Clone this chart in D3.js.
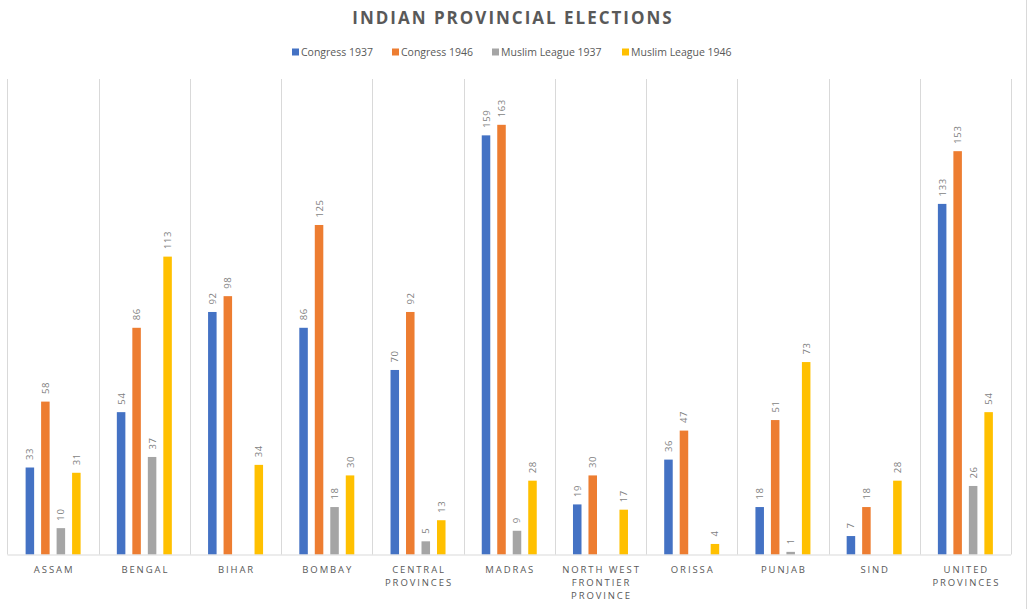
<!DOCTYPE html>
<html><head><meta charset="utf-8">
<script src="https://cdn.jsdelivr.net/npm/d3@7/dist/d3.min.js"></script>
<style>body{margin:0;background:#fff;} svg{display:block;}</style>
</head><body>
<svg id="c" width="1027" height="609"></svg>
<script>
const categories = ["ASSAM","BENGAL","BIHAR","BOMBAY","CENTRAL PROVINCES","MADRAS","NORTH WEST FRONTIER PROVINCE","ORISSA","PUNJAB","SIND","UNITED PROVINCES"];
const categoryLines = [["ASSAM"],["BENGAL"],["BIHAR"],["BOMBAY"],["CENTRAL","PROVINCES"],["MADRAS"],["NORTH WEST","FRONTIER","PROVINCE"],["ORISSA"],["PUNJAB"],["SIND"],["UNITED","PROVINCES"]];
const seriesNames = ["Congress 1937","Congress 1946","Muslim League 1937","Muslim League 1946"];
const seriesColors = ["#4472C4","#ED7D31","#A5A5A5","#FFC000"];
const congress1937 = [33,54,92,86,70,159,19,36,18,7,133];
const congress1946 = [58,86,98,125,92,163,30,47,51,18,153];
const league1937 = [10,37,null,18,5,9,null,null,1,null,26];
const league1946 = [31,113,34,30,13,28,17,4,73,28,54];
const seriesValues = [congress1937, congress1946, league1937, league1946];

(function(){
const svg = d3.select("#c");
const pLeft = 7.5, pRight = 1011, pTop = 80, pBottom = 554.5;
const x0 = d3.scaleBand().domain(categories).range([pLeft, pRight]).padding(0);
const groupW = 55;
const x1 = d3.scaleBand().domain(seriesNames).range([0, groupW]).paddingInner(0.45);
const y = d3.scaleLinear().domain([0, 180]).range([pBottom, pTop]);

// right border of chart area
svg.append("line").attr("x1", 1026.5).attr("x2", 1026.5).attr("y1", 0).attr("y2", 609)
  .attr("stroke", "#d9d9d9");

// gridlines at band boundaries
const bounds = categories.map(c => x0(c)).concat([pRight]);
svg.append("g").selectAll("line").data(bounds).join("line")
  .attr("x1", d => Math.round(d)+0.5).attr("x2", d => Math.round(d)+0.5)
  .attr("y1", pTop-1).attr("y2", pBottom)
  .attr("stroke", "#d9d9d9").attr("stroke-width", 1);

// bars
const data = [];
categories.forEach((c, i) => seriesNames.forEach((s, j) => {
  const v = seriesValues[j][i];
  if (v != null) data.push({c, s, j, v});
}));
const off = (x0.bandwidth() - groupW) / 2;
svg.append("g").selectAll("rect").data(data).join("rect")
  .attr("x", d => x0(d.c) + off + x1(d.s))
  .attr("width", x1.bandwidth())
  .attr("y", d => y(d.v))
  .attr("height", d => y(0) - y(d.v))
  .attr("fill", d => seriesColors[d.j]);

// baseline
svg.append("line").attr("x1", pLeft).attr("x2", pRight).attr("y1", pBottom+0.5).attr("y2", pBottom+0.5)
  .attr("stroke", "#d9d9d9");

// value labels
svg.append("g").selectAll("text").data(data).join("text")
  .attr("transform", d => `translate(${x0(d.c) + off + x1(d.s) + x1.bandwidth()/2 + 3.5},${y(d.v) - 7.5}) rotate(-90)`)
  .attr("text-anchor", "start")
  .attr("font-family", "'Open Sans', 'Liberation Sans', sans-serif")
  .attr("font-size", 9.5).attr("fill", "#7f7f7f").attr("letter-spacing", 0.6)
  .text(d => d.v);

// category labels
const cl = svg.append("g").selectAll("text").data(categories).join("text")
  .attr("x", d => x0(d) + x0.bandwidth()/2)
  .attr("y", 573)
  .attr("text-anchor", "middle")
  .attr("font-family", "'Open Sans', 'Liberation Sans', sans-serif")
  .attr("font-size", 9.5).attr("fill", "#595959").attr("letter-spacing", 1.9);
cl.each(function(d, i) {
  const t = d3.select(this);
  categoryLines[i].forEach((ln, k) => {
    t.append("tspan").attr("x", x0(d) + x0.bandwidth()/2 + 1).attr("dy", k === 0 ? 0 : 13).text(ln);
  });
});

// title
svg.append("text").attr("x", 513).attr("y", 24).attr("text-anchor", "middle")
  .attr("font-family", "'Open Sans', 'Liberation Sans', sans-serif")
  .attr("font-size", 17).attr("font-weight", "bold").attr("fill", "#595959").attr("letter-spacing", 2)
  .text("INDIAN PROVINCIAL ELECTIONS");

// legend
const legendX = [292, 392, 492, 622];
const lg = svg.append("g").selectAll("g").data(seriesNames).join("g")
  .attr("transform", (d, i) => `translate(${legendX[i]},52)`);
lg.append("rect").attr("x", 0).attr("y", -3.5).attr("width", 7).attr("height", 7)
  .attr("fill", (d, i) => seriesColors[i]);
lg.append("text").attr("x", 9).attr("y", 4)
  .attr("font-family", "'Open Sans', 'Liberation Sans', sans-serif")
  .attr("font-size", 10.5).attr("fill", "#595959")
  .text(d => d);
})();
</script>
</body></html>
